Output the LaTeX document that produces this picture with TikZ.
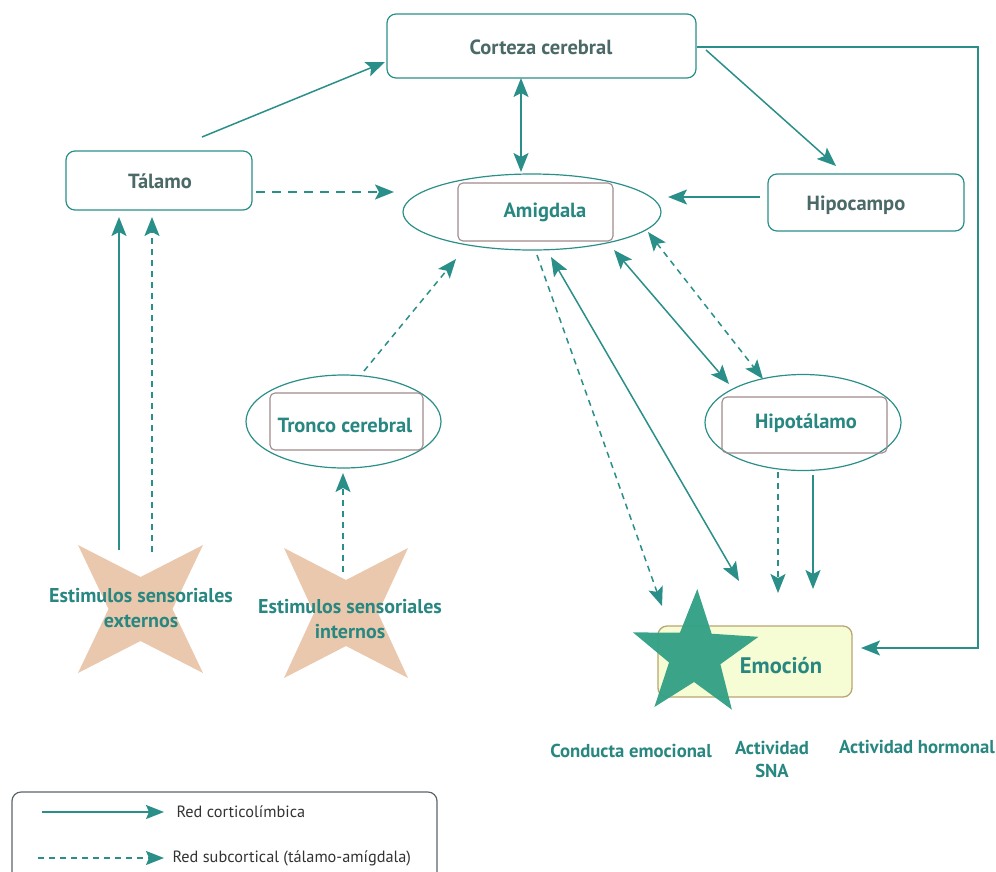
\documentclass[tikz,border=0pt]{standalone}
\usepackage{fontspec}
\setmainfont{PT Sans}
\usetikzlibrary{arrows.meta,shapes.geometric}

\definecolor{tealline}{RGB}{42,143,136}
\definecolor{tealtext}{RGB}{40,135,128}
\definecolor{darktext}{RGB}{75,105,103}
\definecolor{innerbrd}{RGB}{160,138,138}
\definecolor{legendbrd}{RGB}{90,100,105}
\definecolor{crossfill}{RGB}{234,200,173}
\definecolor{starfill}{RGB}{52,161,134}
\definecolor{emofill}{RGB}{246,252,212}
\definecolor{emobrd}{RGB}{185,165,114}

\tikzset{
  mytip/.tip={Stealth[length=19pt, width=15pt, inset=4pt]},
  legtip/.tip={Stealth[length=18pt, width=14pt, inset=3pt]},
  outerbox/.style={draw=tealline, line width=1.2pt, rounded corners=9pt, fill=white},
  innerbox/.style={draw=innerbrd, line width=1.1pt, rounded corners=5pt},
  oval/.style={draw=tealline, line width=1.2pt, ellipse, inner sep=0pt},
  titlegray/.style={text=darktext, font=\bfseries\fontsize{20.5}{24}\selectfont},
  titleteal/.style={text=tealtext, font=\bfseries\fontsize{20.5}{24}\selectfont},
  stimtext/.style={text=tealtext, font=\bfseries\fontsize{20}{25}\selectfont, align=center},
  outlbl/.style={text=tealtext, font=\bfseries\fontsize{18.7}{23}\selectfont, align=center},
  conn/.style={draw=tealline, line width=1.5pt},
  dashconn/.style={conn, dash pattern=on 6pt off 5pt},
  solidarrow/.style={conn, -{mytip}},
  solidboth/.style={conn, {mytip}-{mytip}},
  dasharrow/.style={dashconn, -{mytip}},
  dashboth/.style={dashconn, {mytip}-{mytip}},
  legendtext/.style={text=black!80, font=\fontsize{16.3}{18}\selectfont, anchor=west},
}

\begin{document}
\begin{tikzpicture}[x=1pt, y=-1pt]
\useasboundingbox (0,0) rectangle (996,871);

% ---------- main boxes ----------
\node[outerbox, minimum width=309pt, minimum height=64pt] (cortex) at (541.5,46) {};
\node[titlegray] (cortexlbl) at (541,47) {Corteza cerebral};

\node[outerbox, minimum width=186pt, minimum height=59pt] (thal) at (159,180.5) {};
\node[titlegray] (thallbl) at (160,181) {Tálamo};

\node[outerbox, minimum width=196pt, minimum height=57pt] (hippo) at (866,202.5) {};
\node[titlegray] (hippolbl) at (856,205) {Hipocampo};

% ---------- amygdala ----------
\node[oval, minimum width=258pt, minimum height=76pt] (amy) at (532,212) {};
\node[innerbox, minimum width=155pt, minimum height=58pt] (amyin) at (535.5,212) {};
\node[titleteal] (amylbl) at (545,212) {Amigdala};

% ---------- brainstem ----------
\node[oval, minimum width=195pt, minimum height=93pt] (stem) at (343.5,421.5) {};
\node[innerbox, minimum width=153pt, minimum height=57pt] (stemin) at (346.5,421.5) {};
\node[titleteal] (stemlbl) at (345,425) {Tronco cerebral};

% ---------- hypothalamus ----------
\node[oval, minimum width=196pt, minimum height=96pt] (hypo) at (803,422.5) {};
\node[innerbox, minimum width=165pt, minimum height=56pt] (hypoin) at (804.5,425) {};
\node[titleteal] (hypolbl) at (806,423) {Hipotálamo};

% ---------- emotion ----------
\node[draw=emobrd, fill=emofill, line width=1.3pt, rounded corners=9pt,
      minimum width=194pt, minimum height=71pt] (emo) at (755,661.5) {};
\begin{scope}[shift={(695,655)}]
  \fill[starfill, opacity=0.97]
    (88:66pt) -- (124:27pt) -- (160:66pt) -- (196:27pt) -- (232:66pt)
    -- (268:27pt) -- (304:66pt) -- (340:27pt) -- (16:66pt) -- (52:27pt) -- cycle;
\end{scope}
\node[text=tealtext, font=\bfseries\fontsize{22.5}{26}\selectfont] (emolbl) at (781,666) {Emoción};

% ---------- stimuli ----------
\fill[crossfill] (78,545) -- (140.5,577) -- (203,545) -- (172.5,609) -- (203,673)
  -- (140.5,641) -- (78,673) -- (108.5,609) -- cycle;
\node[stimtext] (extlbl) at (141,608.5) {Estimulos sensoriales\\externos};

\fill[crossfill] (284,548) -- (346,580) -- (408,548) -- (378,613) -- (408,678)
  -- (346,646) -- (284,678) -- (314,613) -- cycle;
\node[stimtext] (intlbl) at (350,619.5) {Estimulos sensoriales\\internos};

% ---------- output labels ----------
\node[outlbl] (conduct) at (631,751) {Conducta emocional};
\node[outlbl] (sna) at (772,759) {Actividad\\SNA};
\node[outlbl] (horm) at (917,747) {Actividad hormonal};

% ---------- connector end points ----------
\coordinate (thalout) at (202,137);
\coordinate (cortexin) at (385,62);
\coordinate (thalR) at (256,192);
\coordinate (amyL) at (394,192);
\coordinate (cortexB) at (521,78);
\coordinate (amyT) at (521,172);
\coordinate (cortexR) at (706,50);
\coordinate (hippoT) at (836,166);
\coordinate (fbstart) at (697,47);
\coordinate (fbcorner1) at (978,47);
\coordinate (fbcorner2) at (978,648);
\coordinate (emoR) at (861,648);
\coordinate (hippoL) at (760,197);
\coordinate (amyR) at (668,197);
\coordinate (extA) at (119,550);
\coordinate (thalBA) at (119,217);
\coordinate (extB) at (152,552);
\coordinate (thalBB) at (152,217);
\coordinate (stemT) at (364,371);
\coordinate (amyBL) at (456,259);
\coordinate (intT) at (343,572);
\coordinate (stemB) at (343,473);
\coordinate (amyB1) at (537,255);
\coordinate (emoT1) at (662,606);
\coordinate (amyB2) at (551,257);
\coordinate (emoT2) at (739,581);
\coordinate (amyB3) at (614,250);
\coordinate (hypoT1) at (729,384);
\coordinate (amyB4) at (648,232);
\coordinate (hypoT2) at (763,379);
\coordinate (hypoB1) at (778,472);
\coordinate (emoT3) at (778,593);
\coordinate (hypoB2) at (813,475);
\coordinate (emoT4) at (813,589);

% ---------- connectors ----------
\draw[solidarrow] (thalout) -- (cortexin);
\draw[dasharrow, dash pattern=on 9pt off 7pt] (thalR) -- (amyL);
\draw[solidboth] (cortexB) -- (amyT);
\draw[solidarrow] (cortexR) -- (hippoT);
\draw[solidarrow] (fbstart) -- (fbcorner1) -- (fbcorner2) -- (emoR);
\draw[solidarrow] (hippoL) -- (amyR);
\draw[solidarrow] (extA) -- (thalBA);
\draw[dasharrow] (extB) -- (thalBB);
\draw[dasharrow] (stemT) -- (amyBL);
\draw[dasharrow] (intT) -- (stemB);
\draw[dasharrow] (amyB1) -- (emoT1);
\draw[solidboth] (amyB2) -- (emoT2);
\draw[solidboth] (amyB3) -- (hypoT1);
\draw[dashboth] (amyB4) -- (hypoT2);
\draw[dasharrow] (hypoB1) -- (emoT3);
\draw[solidarrow] (hypoB2) -- (emoT4);

% ---------- legend ----------
\draw[draw=legendbrd, line width=1.2pt, rounded corners=9pt] (12,890) -- (12,792) -- (437,792) -- (437,890);
\coordinate (legA1) at (42,812);
\coordinate (legA2) at (164,812);
\coordinate (legB1) at (38,858);
\coordinate (legB2) at (164,858);
\draw[conn, -{legtip}] (legA1) -- (legA2);
\draw[dashconn, -{legtip}] (legB1) -- (legB2);
\node[legendtext] (legAlbl) at (173,812) {Red corticolímbica};
\node[legendtext] (legBlbl) at (169,858) {Red subcortical (tálamo-amígdala)};
\end{tikzpicture}
\end{document}
